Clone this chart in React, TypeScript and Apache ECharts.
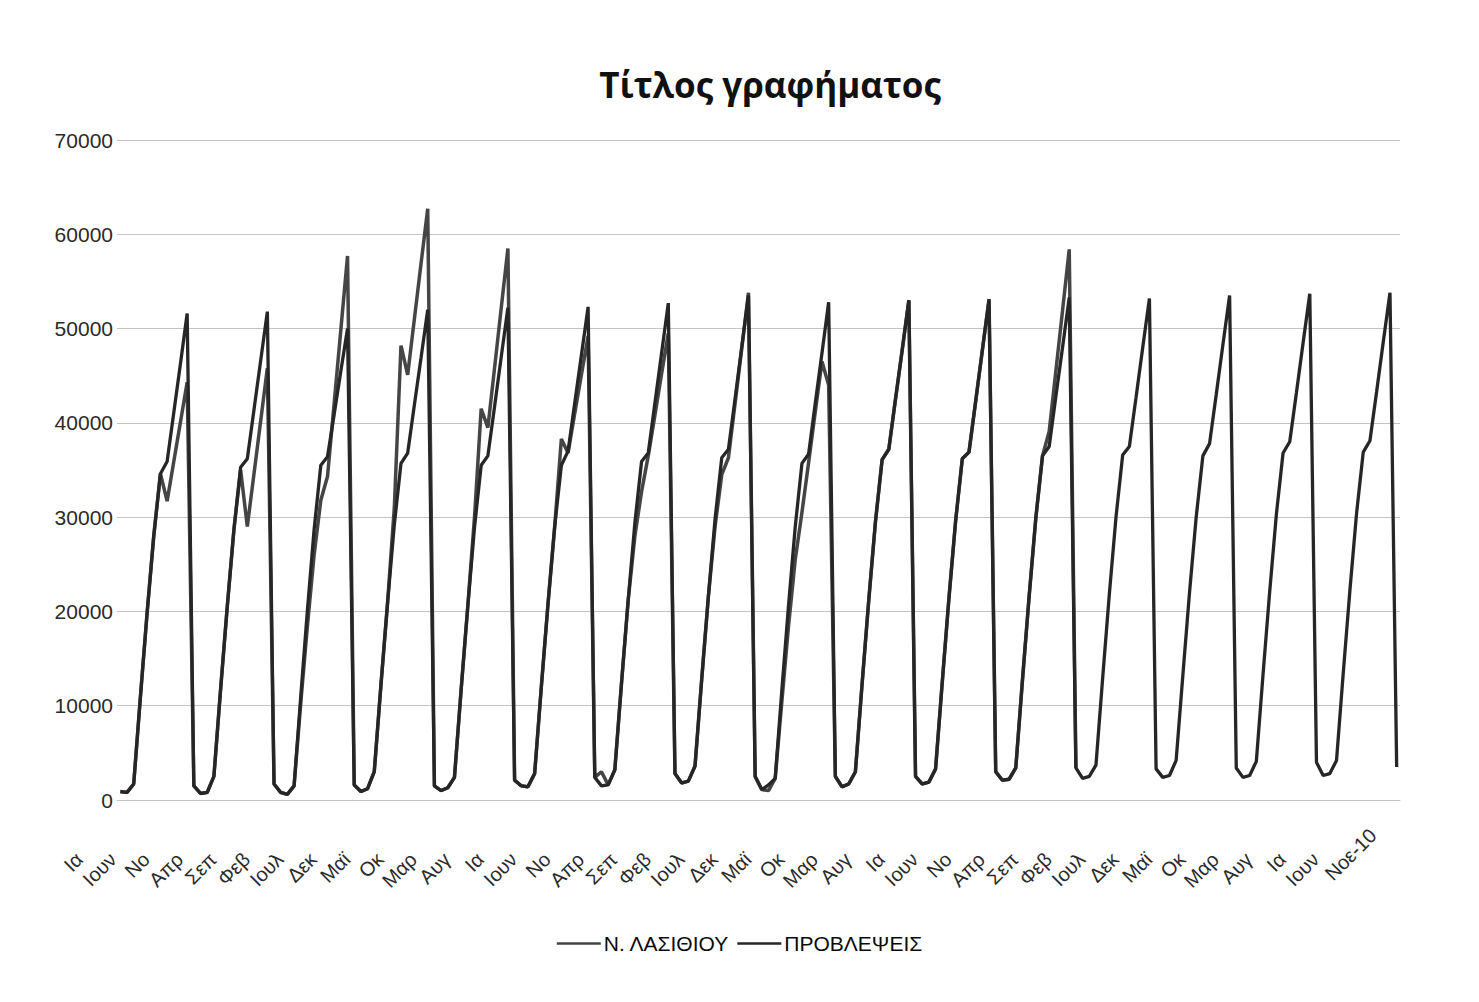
import React, { useEffect, useRef } from "react";
import * as echarts from "echarts";

// Month names (category axis) and years covered by the data
const monthNames = ["Ιαν", "Φεβ", "Μαρ", "Απρ", "Μαϊ", "Ιουν", "Ιουλ", "Αυγ", "Σεπ", "Οκτ", "Νοε", "Δεκ"];
const years = ["95", "96", "97", "98", "99", "00", "01", "02", "03", "04", "05", "06", "07", "08", "09", "10"];

// Tick labels as they appear under the axis (one every 5 months)
const tickLabels = [
  "Ια", "Ιουν", "Νο", "Απρ", "Σεπ", "Φεβ", "Ιουλ", "Δεκ", "Μαϊ", "Οκ", "Μαρ", "Αυγ",
  "Ια", "Ιουν", "Νο", "Απρ", "Σεπ", "Φεβ", "Ιουλ", "Δεκ", "Μαϊ", "Οκ", "Μαρ", "Αυγ",
  "Ια", "Ιουν", "Νο", "Απρ", "Σεπ", "Φεβ", "Ιουλ", "Δεκ", "Μαϊ", "Οκ", "Μαρ", "Αυγ",
  "Ια", "Ιουν", "Νοε-10",
];

// ΠΡΟΒΛΕΨΕΙΣ (forecasts), Jan 1995 – Dec 2010, one row per year
const forecast = [
  900, 800, 1700, 10900, 19800, 28000, 34600, 35900, 41100, 46300, 51600, 1500,
  700, 800, 2500, 11700, 20500, 28700, 35300, 36200, 41400, 46600, 51800, 1700,
  800, 600, 1500, 11000, 20200, 28700, 35500, 36400, 40900, 45500, 50000, 1600,
  900, 1200, 3000, 12200, 21000, 29200, 35700, 36800, 41900, 46900, 52000, 1500,
  1000, 1300, 2400, 11700, 20600, 28900, 35500, 36500, 41700, 47000, 52200, 2100,
  1500, 1400, 2800, 12000, 20800, 29000, 35500, 37000, 42100, 47200, 52300, 2400,
  1500, 1600, 3200, 12400, 21200, 29400, 35900, 36800, 42100, 47400, 52700, 2800,
  1800, 2000, 3600, 12800, 21600, 29800, 36300, 37200, 42600, 48100, 53500, 2500,
  1100, 1600, 2300, 11700, 20700, 29000, 35700, 36700, 42100, 47400, 52800, 2500,
  1400, 1700, 3000, 12300, 21200, 29500, 36100, 37200, 42500, 47700, 53000, 2500,
  1700, 1900, 3300, 12500, 21400, 29600, 36200, 36900, 42300, 47700, 53100, 3000,
  2100, 2200, 3400, 12700, 21600, 29900, 36500, 37500, 42800, 48000, 53300, 3400,
  2300, 2500, 3700, 12900, 21800, 30000, 36600, 37500, 42700, 48000, 53200, 3300,
  2400, 2600, 4200, 13200, 22000, 30000, 36500, 37800, 43000, 48300, 53500, 3400,
  2400, 2600, 4100, 13300, 22100, 30300, 36800, 38000, 43200, 48500, 53700, 4000,
  2600, 2800, 4200, 13400, 22200, 30400, 36900, 38100, 43300, 48600, 53800, 3500,
];

// Ν. ΛΑΣΙΘΙΟΥ (observed), Jan 1995 – Dec 2006, one row per year
const lasithi = [
  900, 800, 1700, 10900, 19800, 28000, 34600, 31700, 35900, 40100, 44300, 1500,
  700, 800, 2500, 11700, 20500, 28700, 35000, 29000, 34600, 40200, 45800, 1700,
  800, 600, 1500, 10300, 18500, 26000, 31800, 34300, 42100, 49900, 57700, 1600,
  900, 1200, 3000, 12200, 21000, 31000, 48200, 45100, 51000, 56900, 62700, 1500,
  1000, 1300, 2400, 11700, 20600, 30000, 41500, 39500, 45800, 52200, 58500, 2100,
  1500, 1400, 2800, 12000, 20800, 29000, 38300, 36800, 41000, 45100, 49200, 2400,
  3000, 1600, 3200, 12400, 21200, 28000, 32700, 36500, 40800, 45200, 49500, 2800,
  1800, 2000, 3600, 12800, 21600, 29000, 34500, 36300, 42100, 47900, 53800, 2500,
  1100, 1000, 2300, 10500, 18500, 25500, 30500, 35800, 41200, 46500, 44000, 2500,
  1400, 1700, 3000, 12300, 21200, 29500, 36100, 37200, 42500, 47700, 53000, 2500,
  1700, 1900, 3300, 12500, 21400, 29600, 36200, 36900, 42300, 47700, 53100, 3000,
  2100, 2200, 3400, 12700, 21600, 29900, 36500, 39100, 45500, 51900, 58400, 3400,
];

const categories: string[] = [];
years.forEach((y) => monthNames.forEach((m) => categories.push(`${m}-${y}`)));

export default function App() {
  const ref = useRef<HTMLDivElement>(null);

  useEffect(() => {
    if (!ref.current) return;
    const chart = echarts.init(ref.current, undefined, { renderer: "svg" });
    const font = "Liberation Sans, Arial, sans-serif";
    const lastTick = tickLabels.length - 1;
    chart.setOption({
      animation: false,
      backgroundColor: "#ffffff",
      title: {
        text: "Τίτλος γραφήματος",
        left: 765,
        textAlign: "center",
        top: 62,
        textStyle: {
          fontFamily: "Open Sans, sans-serif",
          fontWeight: "bold",
          fontSize: 35,
          color: "#111111",
        },
      },
      legend: {
        left: "center",
        top: 928,
        itemWidth: 44,
        itemHeight: 12,
        itemGap: 8,
        icon: "path://M0,5 L44,5 L44,7.6 L0,7.6 Z",
        textStyle: { fontFamily: font, fontSize: 21, color: "#0a0a0a", padding: [0, 0, 0, -2] },
        data: ["Ν. ΛΑΣΙΘΙΟΥ", "ΠΡΟΒΛΕΨΕΙΣ"],
      },
      grid: { left: 117, right: 79, top: 140, height: 660 },
      xAxis: {
        type: "category",
        data: categories,
        boundaryGap: true,
        axisTick: { show: false },
        axisLine: { show: true, lineStyle: { color: "#c4c4c4", width: 1 } },
        axisLabel: {
          interval: 4,
          rotate: 45,
          margin: 15,
          fontFamily: font,
          fontSize: 20,
          color: "#2a2a2a",
          formatter: (_v: string, i: number) => {
            const k = Math.round(i / 5);
            const t = tickLabels[k] ?? "";
            return k === lastTick ? `{e|${t}}` : `{h|${t}}`;
          },
          rich: {
            h: { fontFamily: font, fontSize: 20, color: "#2a2a2a", padding: [0, 58, 0, 0] },
            e: { fontFamily: font, fontSize: 20, color: "#2a2a2a", padding: [0, 24, 0, 0] },
          },
        },
      },
      yAxis: {
        type: "value",
        min: 0,
        max: 70000,
        interval: 10000,
        axisLine: { show: false },
        axisTick: { show: false },
        axisLabel: {
          fontFamily: font,
          fontSize: 21,
          color: "#2a2a2a",
          margin: 4,
          formatter: (v: number) => String(v),
        },
        splitLine: { lineStyle: { color: "#c4c4c4", width: 1 } },
      },
      series: [
        {
          name: "Ν. ΛΑΣΙΘΙΟΥ",
          type: "line",
          data: lasithi,
          symbol: "none",
          lineStyle: { color: "#454545", width: 3.5 },
          itemStyle: { color: "#454545" },
        },
        {
          name: "ΠΡΟΒΛΕΨΕΙΣ",
          type: "line",
          data: forecast,
          symbol: "none",
          lineStyle: { color: "#262626", width: 3.3 },
          itemStyle: { color: "#262626" },
        },
      ],
    });
    return () => chart.dispose();
  }, []);

  return (
    <div
      ref={ref}
      style={{ position: "absolute", left: 0, top: 0, width: "1479px", height: "1002px" }}
    />
  );
}
